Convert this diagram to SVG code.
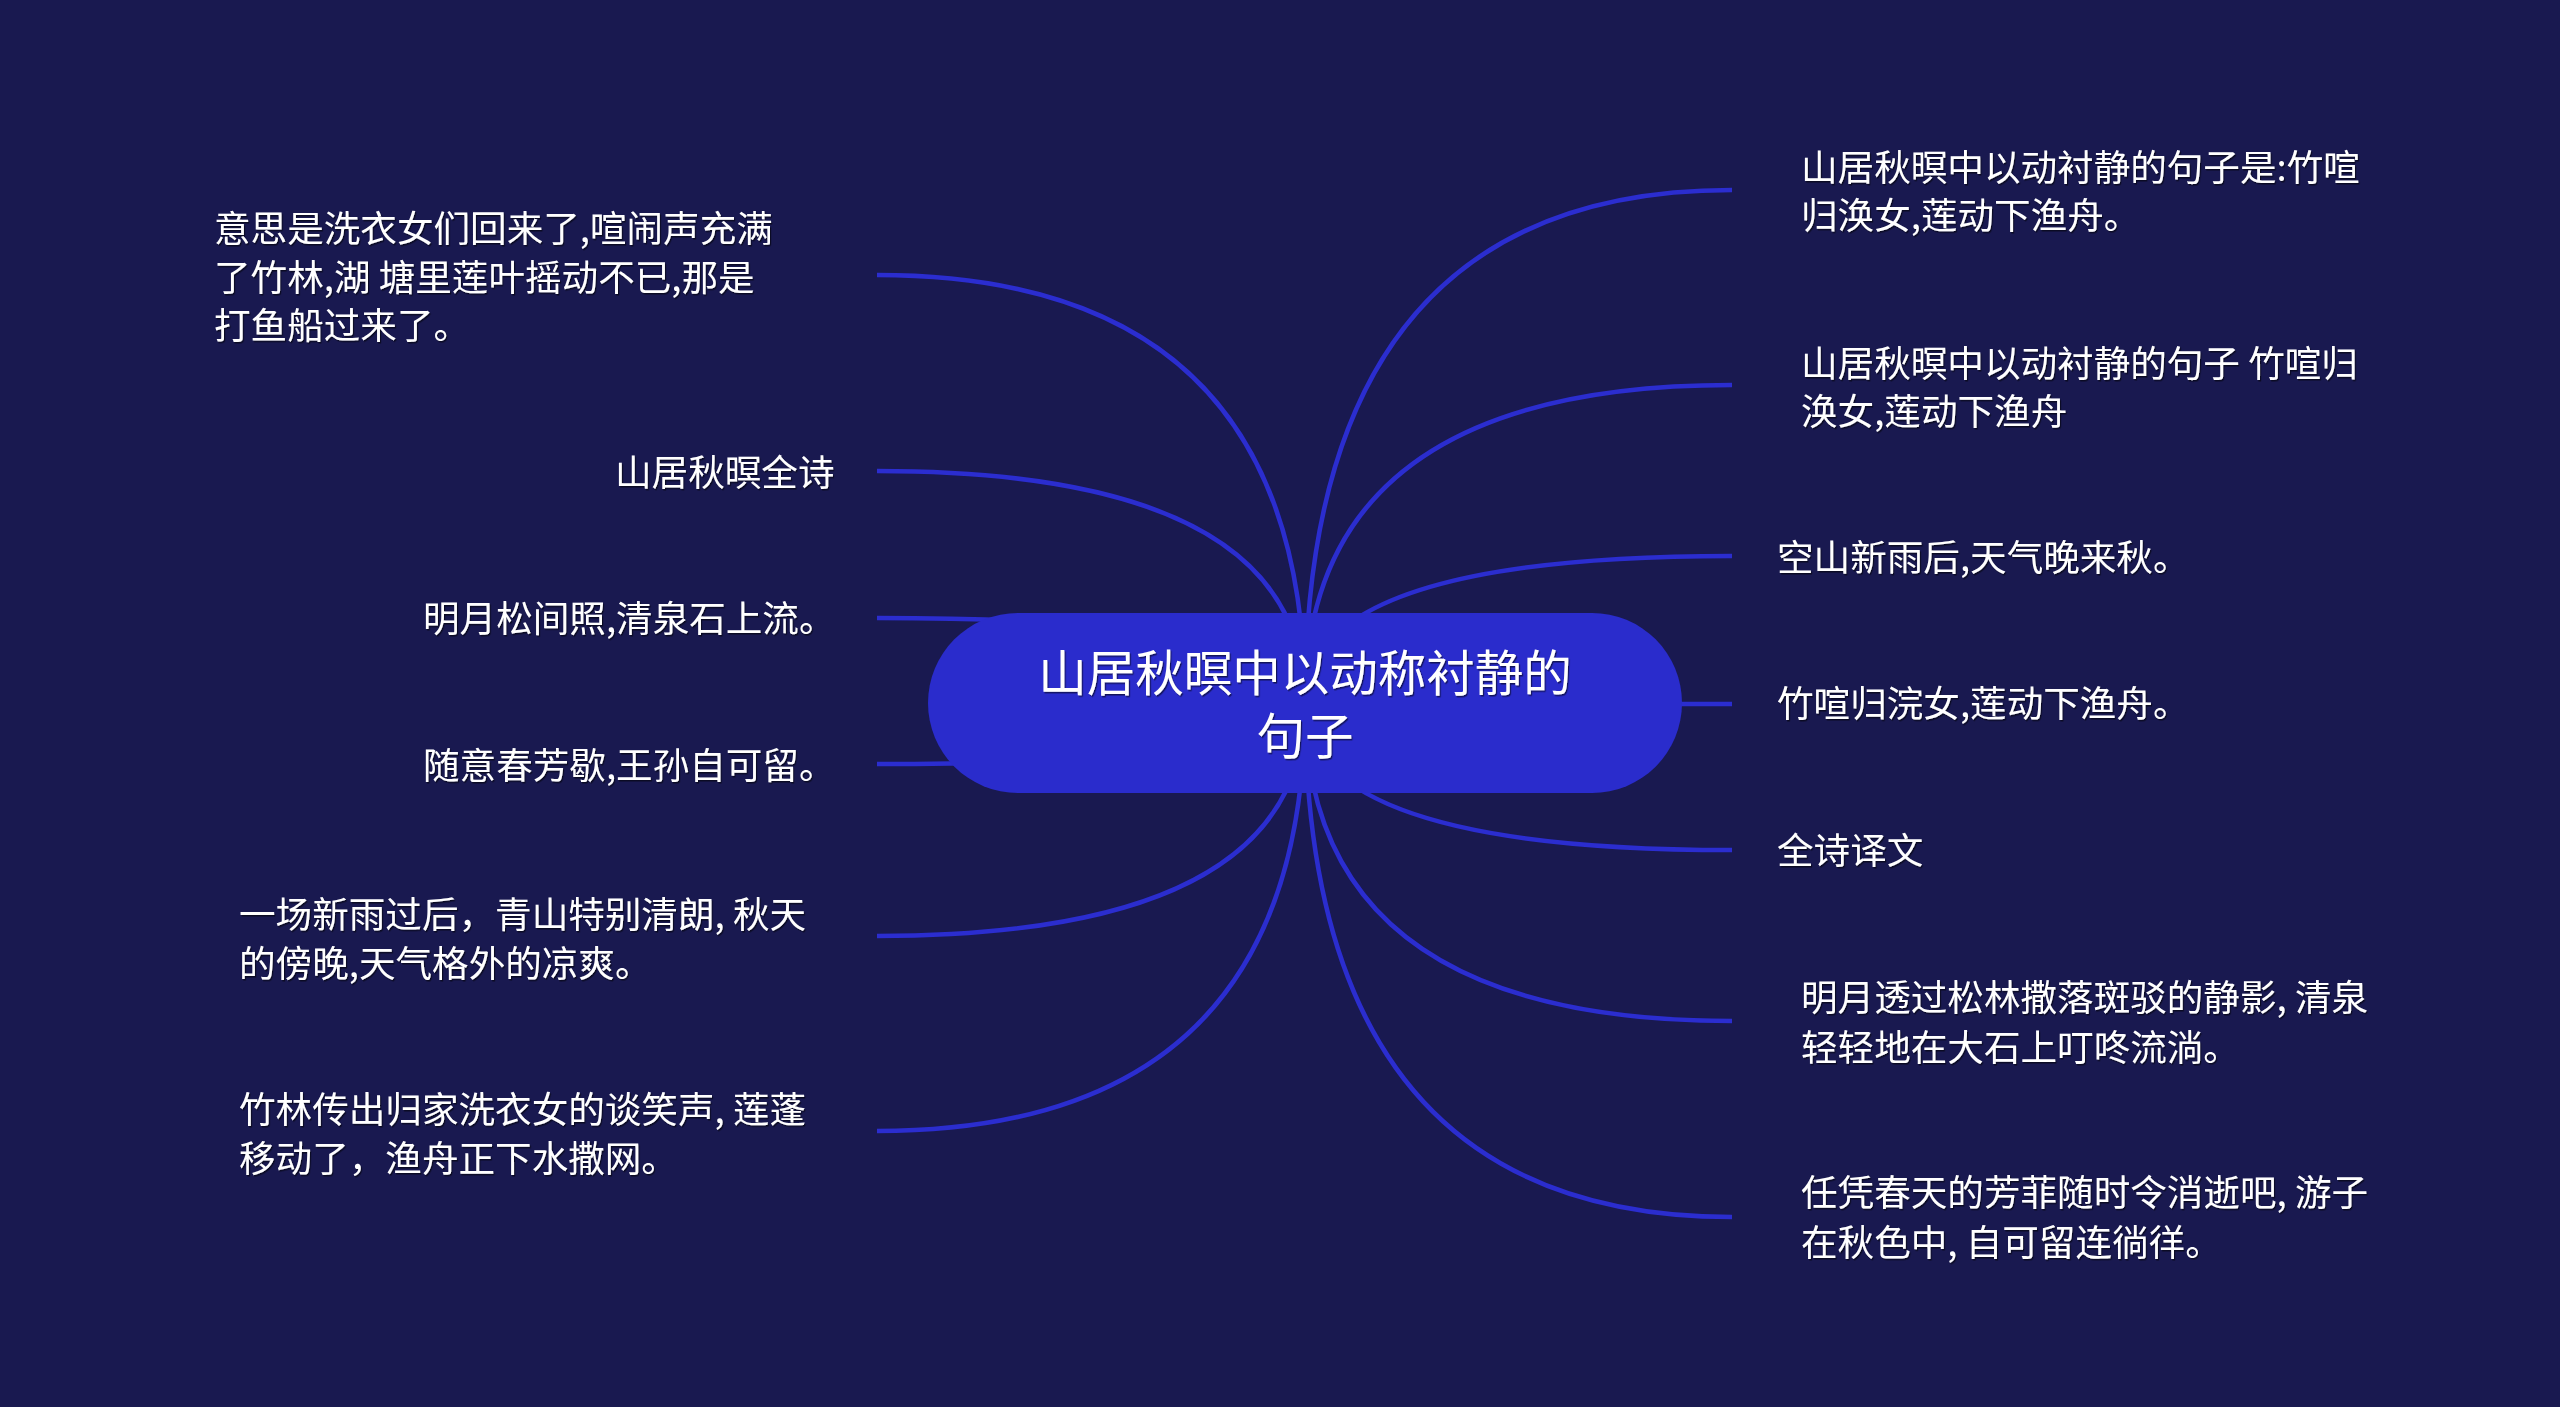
<svg xmlns="http://www.w3.org/2000/svg" width="2560" height="1407" viewBox="0 0 2560 1407">
<defs>
<style>
.bg{fill:#191950}
.link{fill:none;stroke:#2b2dcf;stroke-width:4.5;stroke-linecap:butt}
.root{fill:#2a2ccc}
.t{font-family:"Noto Sans CJK SC","Noto Sans",sans-serif;fill:#ffffff;font-size:36.6px}
.rt{font-family:"Noto Sans CJK SC","Noto Sans",sans-serif;fill:#ffffff;font-size:48.5px;text-anchor:middle}
</style>
<filter id="sh" x="-5%" y="-20%" width="110%" height="140%">
<feDropShadow dx="1.2" dy="1.5" stdDeviation="0.6" flood-color="#000000" flood-opacity="0.55"/>
</filter>
</defs>
<rect class="bg" x="0" y="0" width="2560" height="1407"/>
<g id="connectors">
<path class="link" d="M1305,703 Q1305,275 877,275"/>
<path class="link" d="M1305,703 Q1305,471 877,471"/>
<path class="link" d="M1305,703 Q1305,618 877,618"/>
<path class="link" d="M1305,703 Q1305,764 877,764"/>
<path class="link" d="M1305,703 Q1305,936 877,936"/>
<path class="link" d="M1305,703 Q1305,1131 877,1131"/>
<path class="link" d="M1305,703 Q1305,190 1732,190"/>
<path class="link" d="M1305,703 Q1305,385 1732,385"/>
<path class="link" d="M1305,703 Q1305,556 1732,556"/>
<path class="link" d="M1305,703 Q1305,704 1732,704"/>
<path class="link" d="M1305,703 Q1305,850 1732,850"/>
<path class="link" d="M1305,703 Q1305,1021 1732,1021"/>
<path class="link" d="M1305,703 Q1305,1217 1732,1217"/>
</g>
<g id="root">
<rect class="root" x="928" y="613" width="754" height="180" rx="90" ry="90"/>
<text class="rt" filter="url(#sh)"><tspan x="1305" y="691">山居秋暝中以动称衬静的</tspan><tspan x="1305" y="754">句子</tspan></text>
</g>
<g id="node-l1" filter="url(#sh)">
<text class="t"><tspan x="214" y="242">意思是洗衣女们回来了,喧闹声充满</tspan><tspan x="214" y="291">了竹林,湖 塘里莲叶摇动不已,那是</tspan><tspan x="214" y="339">打鱼船过来了。</tspan></text>
</g>
<g id="node-l2" filter="url(#sh)">
<text class="t" x="615" y="486">山居秋暝全诗</text>
</g>
<g id="node-l3" filter="url(#sh)">
<text class="t" x="423" y="632">明月松间照,清泉石上流。</text>
</g>
<g id="node-l4" filter="url(#sh)">
<text class="t" x="423" y="779">随意春芳歇,王孙自可留。</text>
</g>
<g id="node-l5" filter="url(#sh)">
<text class="t"><tspan x="239" y="928">一场新雨过后，青山特别清朗, 秋天</tspan><tspan x="239" y="977">的傍晚,天气格外的凉爽。</tspan></text>
</g>
<g id="node-l6" filter="url(#sh)">
<text class="t"><tspan x="239" y="1123">竹林传出归家洗衣女的谈笑声, 莲蓬</tspan><tspan x="239" y="1172">移动了，渔舟正下水撒网。</tspan></text>
</g>
<g id="node-r1" filter="url(#sh)">
<text class="t"><tspan x="1801" y="181">山居秋暝中以动衬静的句子是:竹喧</tspan><tspan x="1801" y="229">归涣女,莲动下渔舟。</tspan></text>
</g>
<g id="node-r2" filter="url(#sh)">
<text class="t"><tspan x="1801" y="377">山居秋暝中以动衬静的句子 竹喧归</tspan><tspan x="1801" y="425">涣女,莲动下渔舟</tspan></text>
</g>
<g id="node-r3" filter="url(#sh)">
<text class="t" x="1777" y="571">空山新雨后,天气晚来秋。</text>
</g>
<g id="node-r4" filter="url(#sh)">
<text class="t" x="1777" y="717">竹喧归浣女,莲动下渔舟。</text>
</g>
<g id="node-r5" filter="url(#sh)">
<text class="t" x="1777" y="864">全诗译文</text>
</g>
<g id="node-r6" filter="url(#sh)">
<text class="t"><tspan x="1801" y="1011">明月透过松林撒落斑驳的静影, 清泉</tspan><tspan x="1801" y="1061">轻轻地在大石上叮咚流淌。</tspan></text>
</g>
<g id="node-r7" filter="url(#sh)">
<text class="t"><tspan x="1801" y="1206">任凭春天的芳菲随时令消逝吧, 游子</tspan><tspan x="1801" y="1256">在秋色中, 自可留连徜徉。</tspan></text>
</g>
</svg>
